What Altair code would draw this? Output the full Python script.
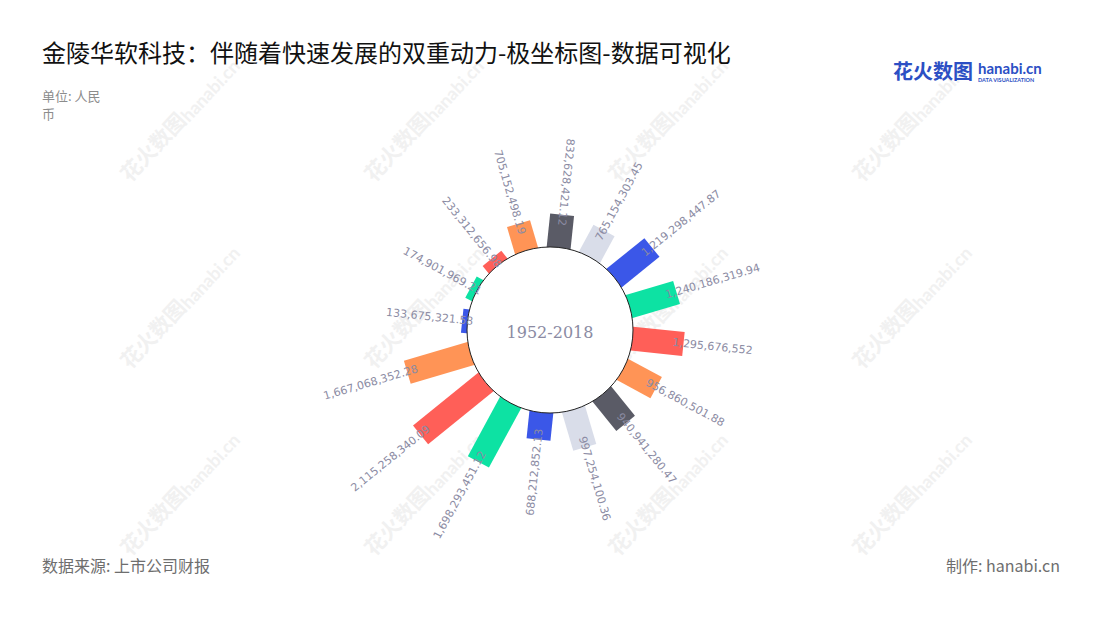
import altair as alt
import pandas as pd

# ---------------- data ----------------
labels = [
    "133,675,321.58", "174,901,969.21", "233,312,656.98", "705,152,498.19",
    "832,628,421.12", "765,154,303.45", "1,219,298,447.87", "1,240,186,319.94",
    "1,295,676,552", "956,860,501.88", "940,941,280.47", "997,254,100.36",
    "688,212,852.13", "1,698,293,451.12", "2,115,258,340.09", "1,667,068,352.28",
]
values = [float(s.replace(",", "")) for s in labels]
palette = ["#3B57E8", "#0DE2A3", "#FF5F58", "#FF9456", "#5A5B66", "#D9DDE9"]

title = "金陵华软科技：伴随着快速发展的双重动力-极坐标图-数据可视化"
unit_lines = ["单位: 人民", "币"]
source = "数据来源: 上市公司财报"
maker = "制作: hanabi.cn"
center_label = "1952-2018"

# ---------------- layout constants ----------------
W, H = 1084, 600
CX, CY = 542, 322          # polar centre (chart coords)
R0 = 83                    # inner circle radius
PX_PER_M = 0.0395          # bar length per million
START = 276                # angle of first bar, clockwise from top
STEP = 360 / len(values)

df = pd.DataFrame({
    "idx": list(range(len(values))),
    "value": values,
    "label": labels,
    "cidx": [i % len(palette) for i in range(len(values))],
})

xs = alt.Scale(domain=[0, W], nice=False, zero=False)
ys = alt.Scale(domain=[0, H], nice=False, zero=False, reverse=True)

base = alt.Chart(df).transform_calculate(
    theta=f"({START} + datum.idx*{STEP}) % 360",
).transform_calculate(
    rad="datum.theta*PI/180",
    r1=f"{R0} + datum.value/1e6*{PX_PER_M}",
).transform_calculate(
    bx0=f"{CX} + {R0 - 3}*sin(datum.rad)",
    by0=f"{CY} - {R0 - 3}*cos(datum.rad)",
    bx1=f"{CX} + datum.r1*sin(datum.rad)",
    by1=f"{CY} - datum.r1*cos(datum.rad)",
    lx=f"{CX} + (datum.r1-11)*sin(datum.rad)",
    ly=f"{CY} - (datum.r1-11)*cos(datum.rad)",
    outward="datum.theta >= 10 && datum.theta < 180",
    ang_out="(datum.theta - 90 + 360) % 360",
    ang_in="(datum.theta + 90) % 360",
)

bars = base.mark_rule(strokeWidth=24, strokeCap="butt").encode(
    x=alt.X("bx0:Q", scale=xs, axis=None),
    y=alt.Y("by0:Q", scale=ys, axis=None),
    x2="bx1:Q",
    y2="by1:Q",
    color=alt.Color("cidx:O", scale=alt.Scale(domain=list(range(len(palette))), range=palette), legend=None),
)

label_style = dict(baseline="middle", font="DejaVu Sans", fontSize=11, color="#8B8BA3")
lab_out = base.transform_filter("datum.outward").mark_text(align="left", **label_style).encode(
    x=alt.X("lx:Q", scale=xs, axis=None),
    y=alt.Y("ly:Q", scale=ys, axis=None),
    text="label:N",
    angle=alt.Angle("ang_out:Q", scale=None),
)
lab_in = base.transform_filter("!datum.outward").mark_text(align="right", **label_style).encode(
    x=alt.X("lx:Q", scale=xs, axis=None),
    y=alt.Y("ly:Q", scale=ys, axis=None),
    text="label:N",
    angle=alt.Angle("ang_in:Q", scale=None),
)

one = pd.DataFrame({"a": [0]})
circle = alt.Chart(one).mark_point(
    shape="circle", size=(2 * R0) ** 2, filled=True, fill="white",
    stroke="#222", strokeWidth=1, opacity=1,
).encode(x=alt.value(CX), y=alt.value(CY))

center = alt.Chart(one).mark_text(
    text=center_label, font="DejaVu Serif", fontSize=16, color="#8B8BA3",
    align="center", baseline="middle",
).encode(x=alt.value(CX), y=alt.value(CY + 3))

# watermarks
wm_rows = []
for cx in [122, 366, 610, 854]:
    for cy in [175, 362, 549]:
        wm_rows.append({"wx": cx, "wy": cy, "hx": cx + 59, "hy": cy - 60})
wm = pd.DataFrame(wm_rows)
wm1 = alt.Chart(wm).mark_text(
    text="花火数图", font="Noto Sans CJK SC", fontWeight="bold", fontSize=21,
    color="#F1F1F1", align="left", baseline="alphabetic", angle=313,
).encode(x=alt.X("wx:Q", scale=xs, axis=None), y=alt.Y("wy:Q", scale=ys, axis=None))
wm2 = alt.Chart(wm).mark_text(
    text="hanabi.cn", font="Lato", fontWeight="bold", fontSize=18,
    color="#F1F1F1", align="left", baseline="alphabetic", angle=313,
).encode(x=alt.X("hx:Q", scale=xs, axis=None), y=alt.Y("hy:Q", scale=ys, axis=None))

def txt(s, x, y, **kw):
    return alt.Chart(one).mark_text(text=s, **kw).encode(x=alt.value(x), y=alt.value(y))

title_t = txt(title, 34, 47, font="Noto Sans CJK SC", fontSize=24, color="#111111",
              align="left", baseline="middle")
unit1 = txt(unit_lines[0], 34, 89, font="Noto Sans CJK SC", fontSize=13, color="#8C8C8C",
            align="left", baseline="middle")
unit2 = txt(unit_lines[1], 34, 107, font="Noto Sans CJK SC", fontSize=13, color="#8C8C8C",
            align="left", baseline="middle")
src = txt(source, 34, 559, font="Noto Sans CJK SC", fontSize=16, color="#6E6E6E",
          align="left", baseline="middle")
mk = txt(maker, 1052, 559, font="Noto Sans CJK SC", fontSize=16, color="#6E6E6E",
         align="right", baseline="middle")
logo1 = txt("花火数图", 885, 65, font="Noto Sans CJK SC", fontSize=20, fontWeight="bold",
            color="#2C4FC4", align="left", baseline="middle")
logo2 = txt("hanabi.cn", 970, 61, font="Lato", fontSize=15, fontWeight="bold",
            color="#2C4FC4", align="left", baseline="middle")
logo3 = txt("DATA VISUALIZATION", 970, 72, font="Lato", fontSize=5.5, fontWeight="bold",
            color="#2C4FC4", align="left", baseline="middle")

chart = alt.layer(
    wm1, wm2, bars, circle, lab_out, lab_in, center,
    title_t, unit1, unit2, src, mk, logo1, logo2, logo3,
).properties(
    width=W, height=H, autosize="none", padding=0,
).configure_view(stroke=None)

chart.save("out.html", embed_options={"renderer": "svg", "actions": False})
